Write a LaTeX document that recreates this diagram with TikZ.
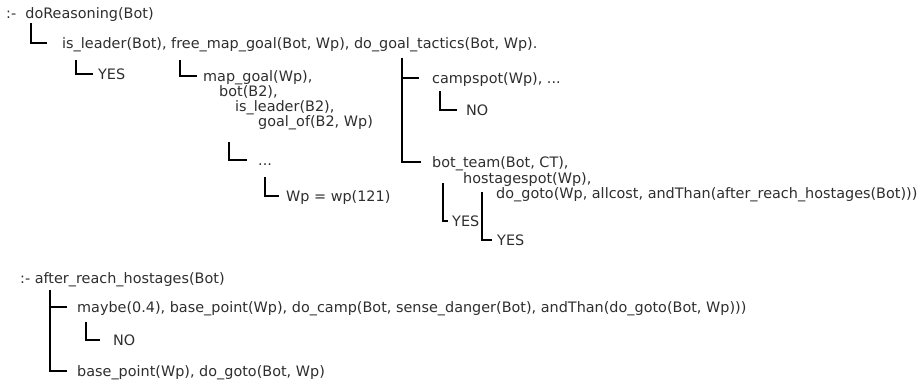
\documentclass[tikz,border=0pt]{standalone}
\usepackage{fontspec}
\setmainfont{DejaVu Sans}
\begin{document}
\begin{tikzpicture}[x=1pt,y=-1pt,
  txt/.style={anchor=west,inner sep=0pt,text height=10.5pt,text depth=0pt,text=black!82,font=\fontsize{14.4}{16}\selectfont},
  conn/.style={draw=black,line width=2pt}]
\useasboundingbox (0,0) rectangle (922,383);
% texts
\node[txt] (root1) at (6,13) {:-\ \ doReasoning(Bot)};
\node[txt] (n1) at (62,43) {is\_leader(Bot), free\_map\_goal(Bot, Wp), do\_goal\_tactics(Bot, Wp).};
\node[txt] (yes1) at (98,74) {YES};
\node[txt] (mg) at (203,76) {map\_goal(Wp),};
\node[txt] (bot) at (219,91) {bot(B2),};
\node[txt] (isl) at (235,106) {is\_leader(B2),};
\node[txt] (gof) at (258,121) {goal\_of(B2, Wp)};
\node[txt] (dots) at (258,160) {...};
\node[txt] (wp) at (286,196) {Wp = wp(121)};
\node[txt] (camp) at (432,78) {campspot(Wp), ...};
\node[txt] (no1) at (466,110) {NO};
\node[txt] (bt) at (432,162) {bot\_team(Bot, CT),};
\node[txt] (hs) at (463,178) {hostagespot(Wp),};
\node[txt] (dg) at (496,193) {do\_goto(Wp, allcost, andThan(after\_reach\_hostages(Bot)))};
\node[txt] (yes2) at (452,221) {YES};
\node[txt] (yes3) at (497,240) {YES};
\node[txt] (root2) at (20,278) {:- after\_reach\_hostages(Bot)};
\node[txt] (mb) at (77,307) {maybe(0.4), base\_point(Wp), do\_camp(Bot, sense\_danger(Bot), andThan(do\_goto(Bot, Wp)))};
\node[txt] (no2) at (113,340) {NO};
\node[txt] (bp) at (77,371) {base\_point(Wp), do\_goto(Bot, Wp)};
% connector tops
\coordinate (t1) at (31,23);
\coordinate (t2) at (76,60);
\coordinate (t3) at (180,60);
\coordinate (t4) at (402,58);
\coordinate (t5) at (440,91);
\coordinate (t6) at (229,142);
\coordinate (t7) at (265,177);
\coordinate (t8) at (443,183);
\coordinate (t9) at (482,192);
\coordinate (t10) at (50,290);
\coordinate (t11) at (86,322);
% connectors
\draw[conn,shorten >=15pt] (t1) |- (n1.west);
\draw[conn,shorten >=5pt] (t2) |- (yes1.west);
\draw[conn,shorten >=6pt] (t3) |- (mg.west);
\draw[conn,shorten >=13pt] (t4) |- (camp.west);
\draw[conn,shorten >=11pt] (t4) |- (bt.west);
\draw[conn,shorten >=9pt] (t5) |- (no1.west);
\draw[conn,shorten >=11pt] (t6) |- (dots.west);
\draw[conn,shorten >=7pt] (t7) |- (wp.west);
\draw[conn,shorten >=4pt] (t8) |- (yes2.west);
\draw[conn,shorten >=5pt] (t9) |- (yes3.west);
\draw[conn,shorten >=10pt] (t10) |- (mb.west);
\draw[conn,shorten >=10pt] (t10) |- (bp.west);
\draw[conn,shorten >=13pt] (t11) |- (no2.west);
\end{tikzpicture}
\end{document}
